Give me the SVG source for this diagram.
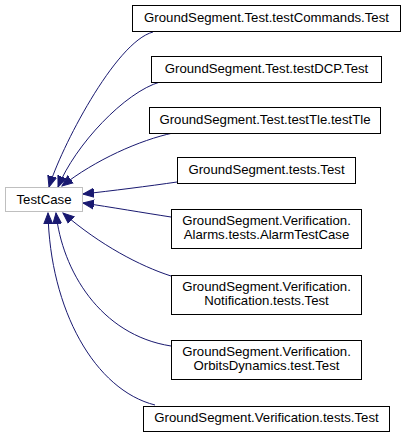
<svg xmlns="http://www.w3.org/2000/svg" width="407" height="437" viewBox="0 0 407 437">
<style>
.box{fill:#fff;stroke:#000;stroke-width:1}
.base{fill:#fff;stroke:#bfbfbf;stroke-width:1}
text{font-family:"Liberation Sans",Arial,sans-serif;font-size:13.2px;fill:#000;text-anchor:middle}
.e{fill:none;stroke:#191970;stroke-width:1;marker-end:url(#ah)}
</style>
<defs>
<marker id="ah" markerUnits="userSpaceOnUse" markerWidth="14" markerHeight="12" viewBox="0 -6 14 12" refX="11" refY="0" orient="auto">
<polygon points="0,-4.5 11,0 0,4.5" fill="#191970" stroke="#191970" stroke-width="1"/>
</marker>
</defs>
<rect width="407" height="437" fill="#fff"/>
<g id="edges">
<path class="e" d="M153,32 C115,42 60,150 49,187"/>
<path class="e" d="M160,82 C125,92 75,145 58,187"/>
<path class="e" d="M173,133 C140,140 95,160 62,186"/>
<path class="e" d="M177,182 C150,186 110,191 83,194"/>
<path class="e" d="M171,217 C145,213 110,207 83,203"/>
<path class="e" d="M171,276 C140,266 100,245 63,213"/>
<path class="e" d="M171,346 C100,335 62,270 56,213"/>
<path class="e" d="M155,405 C95,390 50,310 48,213"/>
</g>
<g id="TestCase">
<rect class="base" x="5.5" y="187.5" width="77" height="24"/>
<text x="44" y="204">TestCase</text>
</g>
<g id="testCommands">
<rect class="box" x="132.5" y="5.5" width="268" height="26"/>
<text x="266.5" y="22">GroundSegment.Test.testCommands.Test</text>
</g>
<g id="testDCP">
<rect class="box" x="151.5" y="56.5" width="230" height="26"/>
<text x="266.5" y="73">GroundSegment.Test.testDCP.Test</text>
</g>
<g id="testTle">
<rect class="box" x="149.5" y="107.5" width="231" height="26"/>
<text x="265" y="124">GroundSegment.Test.testTle.testTle</text>
</g>
<g id="testsTest">
<rect class="box" x="177.5" y="157.5" width="178" height="26"/>
<text x="266.5" y="174">GroundSegment.tests.Test</text>
</g>
<g id="AlarmTestCase">
<rect class="box" x="171.5" y="209.5" width="190" height="39"/>
<text x="266.5" y="225">GroundSegment.Verification.</text>
<text x="266.5" y="239">Alarms.tests.AlarmTestCase</text>
</g>
<g id="NotificationTest">
<rect class="box" x="171.5" y="275.5" width="190" height="39"/>
<text x="266.5" y="290.5">GroundSegment.Verification.</text>
<text x="266.5" y="304.5">Notification.tests.Test</text>
</g>
<g id="OrbitsDynamicsTest">
<rect class="box" x="171.5" y="340.5" width="190" height="39"/>
<text x="266.5" y="356">GroundSegment.Verification.</text>
<text x="266.5" y="370">OrbitsDynamics.test.Test</text>
</g>
<g id="VerificationTestsTest">
<rect class="box" x="143.5" y="406.5" width="246" height="25"/>
<text x="266.5" y="422">GroundSegment.Verification.tests.Test</text>
</g>
</svg>
